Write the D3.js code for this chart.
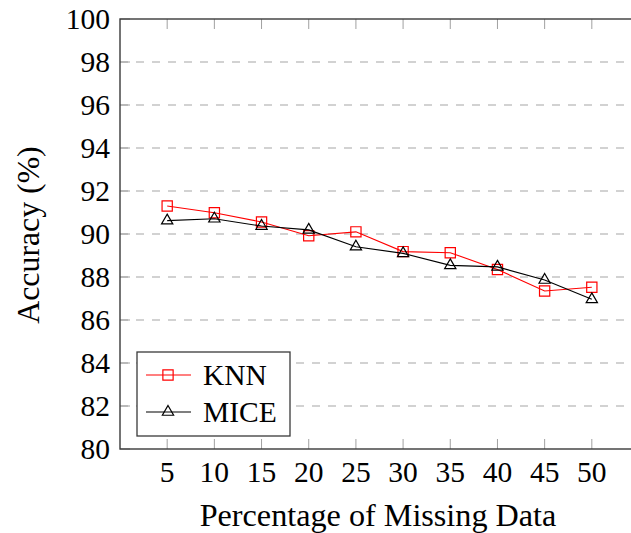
<!DOCTYPE html>
<html>
<head>
<meta charset="utf-8">
<script src="https://cdn.jsdelivr.net/npm/d3@7"></script>
<style>
  html, body { margin: 0; padding: 0; background: #fff; }
  svg { display: block; }
</style>
</head>
<body>
<svg id="chart" width="631" height="533"></svg>
<script>
// Missing-data percentages on the x axis
const missingPct = [5, 10, 15, 20, 25, 30, 35, 40, 45, 50];
// Classification accuracy (%) after imputation
const knnAccuracy  = [91.30, 90.99, 90.56, 89.92, 90.10, 89.18, 89.13, 88.35, 87.35, 87.52];
const miceAccuracy = [90.62, 90.71, 90.37, 90.19, 89.41, 89.10, 88.54, 88.47, 87.86, 86.96];
const yTicks = [80, 82, 84, 86, 88, 90, 92, 94, 96, 98, 100];
const seriesNames = ["KNN", "MICE"];

const svg = d3.select("#chart")
  .attr("font-family", "'Liberation Serif', Tinos, 'Nimbus Roman', 'Times New Roman', 'DejaVu Serif', serif");
const plot = { left: 120, right: 639, top: 19, bottom: 449 };

const x = d3.scaleLinear().domain([0, 55]).range([plot.left, plot.right]);
const y = d3.scaleLinear().domain([80, 100]).range([plot.bottom, plot.top]);

// dashed horizontal grid
svg.append("g")
  .selectAll("line")
  .data(yTicks.filter(v => v > 80 && v < 100))
  .join("line")
  .attr("x1", plot.left).attr("x2", plot.right)
  .attr("y1", d => y(d)).attr("y2", d => y(d))
  .attr("stroke", "#c4c4c4").attr("stroke-width", 1.3)
  .attr("stroke-dasharray", "8,8");

// inward tick marks
const tickLen = 10;
const tickG = svg.append("g").attr("stroke", "#a0a0a0").attr("stroke-width", 1);
tickG.selectAll(".xb").data(missingPct).join("line").attr("class", "xb")
  .attr("x1", d => x(d)).attr("x2", d => x(d))
  .attr("y1", plot.bottom).attr("y2", plot.bottom - tickLen);
tickG.selectAll(".xt").data(missingPct).join("line").attr("class", "xt")
  .attr("x1", d => x(d)).attr("x2", d => x(d))
  .attr("y1", plot.top).attr("y2", plot.top + tickLen);
tickG.selectAll(".yl").data(yTicks).join("line").attr("class", "yl")
  .attr("x1", plot.left).attr("x2", plot.left + tickLen)
  .attr("y1", d => y(d)).attr("y2", d => y(d));

// plot frame
svg.append("rect")
  .attr("x", plot.left).attr("y", plot.top)
  .attr("width", plot.right - plot.left).attr("height", plot.bottom - plot.top)
  .attr("fill", "none").attr("stroke", "#3a3a3a").attr("stroke-width", 1.4);

// tick labels
svg.append("g").selectAll("text").data(missingPct).join("text")
  .attr("x", d => x(d)).attr("y", 482)
  .attr("text-anchor", "middle")
  .attr("font-size", 29.5)
  .text(d => d);
svg.append("g").selectAll("text").data(yTicks).join("text")
  .attr("x", 110).attr("y", d => y(d))
  .attr("dy", "0.34em")
  .attr("text-anchor", "end")
  .attr("font-size", 29.5)
  .text(d => d);

// axis titles
svg.append("text")
  .attr("x", (200 + 556) / 2).attr("y", 526)
  .attr("text-anchor", "middle")
  .attr("font-size", 32.2)
  .text("Percentage of Missing Data");
svg.append("text")
  .attr("transform", "translate(39,235) rotate(-90)")
  .attr("text-anchor", "middle")
  .attr("font-size", 31.8)
  .text("Accuracy (%)");

const line = d3.line().x((d, i) => x(missingPct[i])).y(d => y(d));
const sq = d3.symbol().type(d3.symbolSquare).size(105);
const tri = d3.symbol().type(d3.symbolTriangle).size(55);

function drawSeries(values, color, marker) {
  const g = svg.append("g");
  g.append("path").datum(values)
    .attr("d", line).attr("fill", "none")
    .attr("stroke", color).attr("stroke-width", 1.1);
  g.selectAll("path.m").data(values).join("path")
    .attr("class", "m")
    .attr("transform", (d, i) => `translate(${x(missingPct[i])},${y(d)})`)
    .attr("d", marker)
    .attr("fill", "none").attr("stroke", color).attr("stroke-width", 1.2);
}
drawSeries(knnAccuracy, "#ff0000", sq);
drawSeries(miceAccuracy, "#000000", tri);

// legend
const lg = svg.append("g");
lg.append("rect")
  .attr("x", 137).attr("y", 352).attr("width", 153).attr("height", 84)
  .attr("fill", "#fff").attr("stroke", "#3a3a3a").attr("stroke-width", 1.3);
const legendItems = [
  { name: seriesNames[0], color: "#ff0000", marker: sq, yy: 375 },
  { name: seriesNames[1], color: "#000000", marker: tri, yy: 412 }
];
legendItems.forEach(it => {
  lg.append("line").attr("x1", 146).attr("x2", 191)
    .attr("y1", it.yy).attr("y2", it.yy)
    .attr("stroke", it.color).attr("stroke-width", 1.1);
  lg.append("path").attr("d", it.marker)
    .attr("transform", `translate(168,${it.yy})`)
    .attr("fill", "none").attr("stroke", it.color).attr("stroke-width", 1.2);
  lg.append("text").attr("x", 203).attr("y", it.yy).attr("dy", "0.34em")
    .attr("font-size", 29.5).text(it.name);
});
</script>
</body>
</html>
